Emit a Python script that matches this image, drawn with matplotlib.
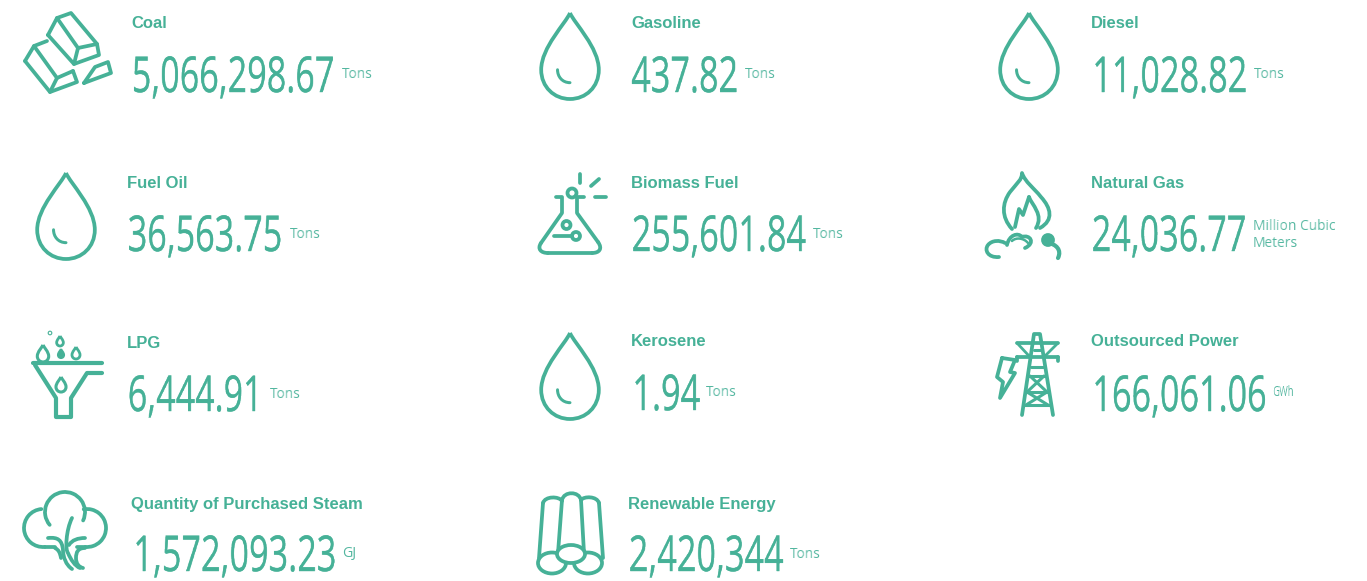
import matplotlib
matplotlib.use("Agg")
import matplotlib.pyplot as plt
import matplotlib.patheffects as pe
import numpy as np
from matplotlib.path import Path
from matplotlib.patches import PathPatch, Circle, Ellipse, Arc
from matplotlib.text import Text
from matplotlib.transforms import Bbox

GREEN = '#46B197'
UNIT_GREEN = '#52B69F'

names = ['Coal', 'Gasoline', 'Diesel', 'Fuel Oil', 'Biomass Fuel', 'Natural Gas',
         'LPG', 'Kerosene', 'Outsourced Power', 'Quantity of Purchased Steam', 'Renewable Energy']
values = ['5,066,298.67', '437.82', '11,028.82', '36,563.75', '255,601.84', '24,036.77',
          '6,444.91', '1.94', '166,061.06', '1,572,093.23', '2,420,344']
units = ['Tons', 'Tons', 'Tons', 'Tons', 'Tons', 'Million Cubic\nMeters',
         'Tons', 'Tons', 'GWh', 'GJ', 'Tons']

# layout in pixels
name_x = [131, 631, 1091, 127, 631, 1091, 127, 631, 1091, 131, 628]
name_y = [23, 23, 23, 183, 183, 183, 343, 342, 342, 504, 504]
value_x = [131, 631, 1091, 127, 631, 1091, 127, 631, 1091, 132, 628]
value_y = [92, 92, 92, 251, 251, 251, 411, 410, 411, 571, 571]
unit_x = [342, 745, 1254, 290, 813, 1253, 270, 706, 1272, 342, 790]
unit_y = [74, 74, 74, 235, 235, 235, 394, 393, 393, 554, 555]
LW = 2.7


def squeeze(f):
    def filt(img, dpi):
        w = img.shape[1]
        xs = np.linspace(0, w - 1, max(1, int(round(w * f))))
        i0 = np.floor(xs).astype(int)
        i1 = np.minimum(i0 + 1, w - 1)
        t = (xs - i0)[None, :, None]
        return img[:, i0] * (1 - t) + img[:, i1] * t, 0, 0
    return filt


class NarrowText(Text):
    # Text narrowed horizontally, no condensed font is installed
    def __init__(self, *args, f=1.0, **kwargs):
        super().__init__(*args, **kwargs)
        self.f = f
        self.set_agg_filter(squeeze(f))

    def get_window_extent(self, renderer=None, dpi=None):
        bb = super().get_window_extent(renderer, dpi)
        return Bbox.from_extents(bb.x0, bb.y0, bb.x0 + bb.width * self.f, bb.y1)


fig = plt.figure(figsize=(13.67, 5.81), dpi=100)
ax = fig.add_axes([0, 0, 1, 1])
ax.set_xlim(0, 1367)
ax.set_ylim(581, 0)
ax.axis('off')


def line(pts, lw=LW):
    xs, ys = zip(*pts)
    ax.plot(xs, ys, color=GREEN, lw=lw, solid_capstyle='round', solid_joinstyle='round')


def curve(pts, lw=LW, fill=False):
    # start, then three points for each cubic segment
    codes = [Path.MOVETO] + [Path.CURVE4] * (len(pts) - 1)
    ax.add_patch(PathPatch(Path(pts, codes), fc=GREEN if fill else 'none', ec=GREEN, lw=lw,
                           capstyle='round', joinstyle='round'))


def circle(x, y, r, lw=LW, fill=False):
    ax.add_patch(Circle((x, y), r, fc=GREEN if fill else 'none', ec=GREEN, lw=lw))


def ellipse(x, y, w, h, lw=LW):
    ax.add_patch(Ellipse((x, y), w, h, fc='white', ec=GREEN, lw=lw, zorder=3))


def arc(x, y, r, a, b, lw=LW):
    ax.add_patch(Arc((x, y), 2 * r, 2 * r, theta1=a, theta2=b, color=GREEN, lw=lw, capstyle='round'))


def drop(cx, top, h, lw=LW, fill=False, smile=True):
    w = h * 0.335
    pts = [(cx, top),
           (cx - w * 0.15, top + h * 0.12), (cx - w, top + h * 0.4), (cx - w, top + h * 0.66),
           (cx - w, top + h * 0.86), (cx - w * 0.55, top + h), (cx, top + h),
           (cx + w * 0.55, top + h), (cx + w, top + h * 0.86), (cx + w, top + h * 0.66),
           (cx + w, top + h * 0.4), (cx + w * 0.15, top + h * 0.12), (cx, top)]
    codes = [Path.MOVETO] + [Path.CURVE4] * 12
    ax.add_patch(PathPatch(Path(pts, codes), fc=GREEN if fill else 'none', ec=GREEN, lw=lw, joinstyle='round'))
    if smile:
        curve([(cx - h * 0.145, top + h * 0.66), (cx - h * 0.145, top + h * 0.74),
               (cx - h * 0.09, top + h * 0.81), (cx, top + h * 0.81)], lw=lw * 0.8)


# coal
line([(48, 35), (57, 18), (71, 13), (97, 44), (99, 55), (74, 64), (48, 35)])
line([(57, 18), (78, 48), (97, 44)])
line([(78, 48), (74, 64)])
line([(25, 61), (34, 46), (47, 41)])
line([(25, 61), (50, 92), (77, 82), (73, 71)])
line([(34, 46), (57, 78), (73, 71)])
line([(57, 78), (50, 92)])
line([(84, 83), (95, 67), (108, 62), (111, 73), (84, 83)])

# drops
drop(570, 13, 86)
drop(1029, 13, 86)
drop(66, 173, 86)
drop(570, 333, 86)

# flask
line([(556, 197), (562, 197), (562, 213), (541, 243)])
curve([(541, 243), (537, 249), (541, 253), (548, 253)])
line([(548, 253), (592, 253)])
curve([(592, 253), (599, 253), (603, 249), (598, 242)])
line([(598, 242), (577, 213), (577, 197), (584, 197)])
circle(572, 193, 4.5)
line([(579.5, 174), (579.5, 183)])
line([(591, 186), (599, 179)])
line([(595, 197), (606, 197)])
circle(566.5, 225, 4)
circle(576, 236, 4)
line([(554, 236), (572, 236)])

# natural gas
curve([(1012, 229), (1001, 217), (1002, 203), (1010, 192), (1017, 183), (1022, 180), (1022, 173),
       (1025, 182), (1034, 188), (1041, 197), (1051, 208), (1054, 220), (1040, 228)])
line([(1015, 227), (1019, 209), (1023, 215), (1029, 197)])
curve([(1029, 197), (1032, 205), (1044, 215), (1036, 228)])
curve([(999, 257), (988, 258), (984, 250), (988, 245), (992, 240), (1000, 240), (1005, 243)])
curve([(1007, 245), (1009, 235), (1018, 232), (1022, 237), (1030, 234), (1036, 243), (1025, 248)])
curve([(1012, 241), (1016, 237), (1024, 238), (1028, 243)], lw=1.8)
circle(1048, 240, 5, fill=True)
curve([(1048, 243), (1056, 244), (1062, 250), (1058, 258)], lw=3)

# power tower
line([(1022, 415), (1034, 334), (1040, 334), (1053, 415)])
line([(1017, 343), (1058, 343)])
line([(1017, 357), (1058, 357)])
line([(1017, 343), (1030, 357)], lw=2)
line([(1058, 343), (1044, 357)], lw=2)
line([(1017, 357), (1017, 361)])
line([(1058, 357), (1058, 361)])
for y in [350, 367, 376, 392, 405]:
    line([(1037 - (y - 333) * 0.19, y), (1037 + (y - 333) * 0.19, y)], lw=2.2)
line([(1030, 376), (1047, 392), (1026, 405)], lw=2.2)
line([(1044, 376), (1027, 392), (1048, 405)], lw=2.2)
line([(1002, 358), (1015, 360), (1010, 372), (1015, 373), (1000, 398), (1003, 382), (997, 377), (1002, 358)])

# funnel
line([(33, 363), (102, 363)], lw=3)
line([(35, 365), (56, 398), (56, 417), (71, 417), (71, 398), (87, 373), (102, 373)], lw=3)
drop(43, 345, 17, lw=2.2, smile=False)
drop(60, 336, 10, lw=2, smile=False)
drop(61, 349, 9, lw=1.5, fill=True, smile=False)
drop(76, 347, 12, lw=2, smile=False)
drop(61, 377, 15, lw=2.2, smile=False)
circle(50, 333, 1.8, lw=0.8)

# steam cloud
arc(65, 512, 20, 140, 385)
arc(87, 528, 19, -100, 95)
arc(43, 528, 19, 85, 265)
line([(45, 547), (55, 547)])
line([(85, 547), (77, 547)])
curve([(72, 518), (66, 530), (65, 550), (68, 553), (71, 560), (75, 566), (80, 568)])
curve([(48, 538), (58, 537), (62, 540), (63, 550), (63, 557), (66, 565), (72, 569)])
curve([(85, 538), (78, 538), (72, 540), (69, 545)])
curve([(85, 548), (78, 548), (76, 552), (76, 558), (76, 564), (79, 567), (83, 568)])
curve([(55, 548), (59, 550), (60, 553), (61, 558)])

# logs
line([(539, 558), (543, 503)])
curve([(543, 503), (545, 496), (559, 496), (562, 501)])
line([(558, 553), (562, 500)])
curve([(562, 500), (564, 491), (579, 491), (581, 500)])
line([(584, 553), (581, 500)])
curve([(581, 500), (584, 496), (597, 496), (599, 503)])
line([(599, 503), (603, 558)])
ellipse(552, 563, 28, 21)
ellipse(588, 563, 28, 21)
ellipse(571, 554, 28, 18)

# texts
for i in range(len(names)):
    ax.text(name_x[i], name_y[i], names[i], color=GREEN, fontsize=12, fontweight='bold',
            family='Liberation Sans', va='center', ha='left')
    t = NarrowText(value_x[i], value_y[i], values[i], f=0.695, color=GREEN, fontsize=35.5,
                   family='Open Sans', va='baseline', ha='left')
    t.set_path_effects([pe.withStroke(linewidth=0.3, foreground=GREEN)])
    ax.add_artist(t)
    f = 0.68 if units[i] == 'GWh' else 0.98
    ax.add_artist(NarrowText(unit_x[i], unit_y[i], units[i], f=f, color=UNIT_GREEN, fontsize=10.2,
                             family='Open Sans', va='center', ha='left', linespacing=1.1))

plt.savefig('out.png', dpi=100)
